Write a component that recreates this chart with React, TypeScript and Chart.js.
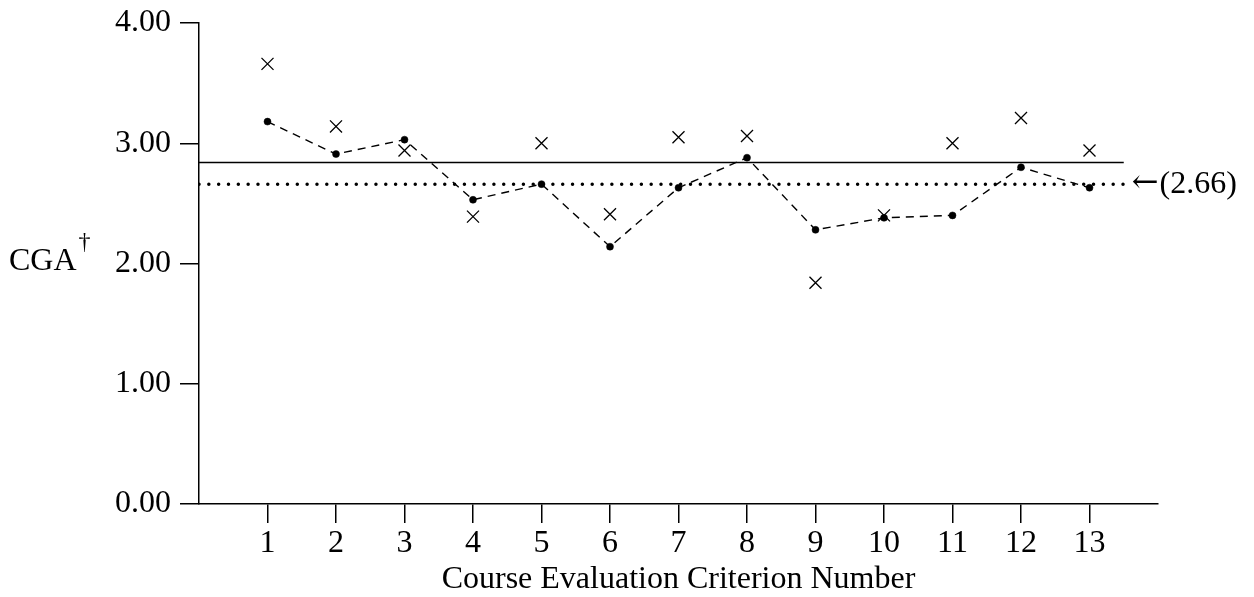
import React, { useEffect, useRef } from "react";
import { Chart, registerables } from "chart.js";

Chart.register(...registerables);

const criteria = [1, 2, 3, 4, 5, 6, 7, 8, 9, 10, 11, 12, 13];
const dotValues = [3.18, 2.91, 3.03, 2.53, 2.66, 2.14, 2.63, 2.88, 2.28, 2.38, 2.40, 2.80, 2.63];
const crossValues = [3.66, 3.14, 2.94, 2.39, 3.00, 2.41, 3.05, 3.06, 1.84, 2.40, 3.00, 3.21, 2.94];
const yTickValues = [0, 1, 2, 3, 4];
const solidRefValue = 2.84;
const dottedMeanValue = 2.66;
const refLineStart = 0;
const refLineEnd = 13.5;
const xMin = 0;
const xMax = 14;
const xTitle = "Course Evaluation Criterion Number";
const yTitle = "CGA";
const yTitleSup = "\u2020";
const meanArrow = "\u2190";
const meanLabel = "(" + dottedMeanValue.toFixed(2) + ")";

const FONT = "'Liberation Serif', 'Times New Roman', serif";
const FS = 32;

const textPlugin = {
  id: "textPlugin",
  afterDraw(chart: any) {
    const ctx = chart.ctx;
    const xs = chart.scales.x;
    const ys = chart.scales.y;
    ctx.save();
    ctx.fillStyle = "#000";
    // mean label
    const lx = xs.getPixelForValue(refLineEnd) + 8;
    const ly = ys.getPixelForValue(dottedMeanValue);
    ctx.textBaseline = "middle";
    ctx.textAlign = "left";
    ctx.font = `${FS}px 'DejaVu Serif', serif`;
    ctx.fillText(meanArrow, lx, ly);
    const aw = ctx.measureText(meanArrow).width;
    ctx.font = `${FS}px ${FONT}`;
    ctx.fillText(meanLabel, lx + aw + 1, ly);
    // y title
    ctx.textBaseline = "alphabetic";
    ctx.font = `${FS}px ${FONT}`;
    ctx.fillText(yTitle, 9, 270);
    const w = ctx.measureText(yTitle).width;
    ctx.font = `24px ${FONT}`;
    ctx.fillText(yTitleSup, 9 + w + 2, 249);
    ctx.restore();
  },
};

export default function App() {
  const ref = useRef<HTMLCanvasElement>(null);
  useEffect(() => {
    document.body.style.margin = "0";
    const chart = new Chart(ref.current!, {
      type: "scatter",
      data: {
        datasets: [
          {
            label: "solid",
            data: [
              { x: refLineStart, y: solidRefValue },
              { x: refLineEnd, y: solidRefValue },
            ],
            showLine: true,
            borderColor: "#000",
            borderWidth: 1.5,
            pointRadius: 0,
          },
          {
            label: "mean",
            data: [
              { x: refLineStart, y: dottedMeanValue },
              { x: refLineEnd, y: dottedMeanValue },
            ],
            showLine: true,
            borderColor: "#000",
            borderWidth: 3.5,
            borderCapStyle: "round",
            borderDash: [0, 9.83],
            pointRadius: 0,
          },
          {
            label: "dots",
            data: criteria.map((c, i) => ({ x: c, y: dotValues[i] })),
            showLine: true,
            borderColor: "#000",
            borderWidth: 1.4,
            borderDash: [8, 6],
            pointStyle: "circle",
            pointRadius: 3.5,
            pointBackgroundColor: "#000",
            pointBorderColor: "#000",
            pointBorderWidth: 0.5,
          },
          {
            label: "crosses",
            data: criteria.map((c, i) => ({ x: c, y: crossValues[i] })),
            showLine: false,
            pointStyle: "crossRot",
            pointRadius: 8.5,
            pointBorderColor: "#000",
            pointBorderWidth: 1.3,
            borderColor: "#000",
          },
        ] as any,
      },
      options: {
        animation: false,
        responsive: false,
        maintainAspectRatio: false,
        layout: { padding: { left: 0, right: 96, top: 23, bottom: 0 } },
        plugins: {
          legend: { display: false },
          tooltip: { enabled: false },
        },
        scales: {
          x: {
            type: "linear",
            min: xMin,
            max: xMax,
            afterBuildTicks: (s: any) => {
              s.ticks = criteria.map((v) => ({ value: v }));
            },
            afterFit: (s: any) => {
              s.height = 93;
              s.paddingLeft = 0;
              s.paddingRight = 0;
            },
            grid: {
              drawOnChartArea: false,
              drawTicks: true,
              tickLength: 19,
              color: "#000",
              lineWidth: 1.5,
            },
            border: { display: true, color: "#000", width: 1.5 },
            ticks: {
              color: "#000",
              font: { family: FONT, size: FS },
              padding: 1,
              maxRotation: 0,
              autoSkip: false,
              callback: (v: any) => String(v),
            },
            title: {
              display: true,
              text: xTitle,
              color: "#000",
              font: { family: FONT, size: FS, lineHeight: 1.1 },
              padding: { top: 0, bottom: 0 },
            },
          },
          y: {
            type: "linear",
            min: yTickValues[0],
            max: yTickValues[yTickValues.length - 1],
            afterBuildTicks: (s: any) => {
              s.ticks = yTickValues.map((v) => ({ value: v }));
            },
            afterFit: (s: any) => {
              s.width = 199;
              s.paddingTop = 0;
              s.paddingBottom = 0;
            },
            grid: {
              drawOnChartArea: false,
              drawTicks: true,
              tickLength: 19,
              color: "#000",
              lineWidth: 1.5,
            },
            border: { display: true, color: "#000", width: 1.5 },
            ticks: {
              color: "#000",
              font: { family: FONT, size: FS },
              padding: 9,
              callback: (v: any) => Number(v).toFixed(2),
            },
          },
        },
      },
      plugins: [textPlugin],
    });
    return () => chart.destroy();
  }, []);
  return (
    <div style={{ position: "absolute", left: 0, top: 0, width: 1254, height: 597, background: "#fff" }}>
      <canvas ref={ref} width={1254} height={597} style={{ display: "block" }} />
    </div>
  );
}
